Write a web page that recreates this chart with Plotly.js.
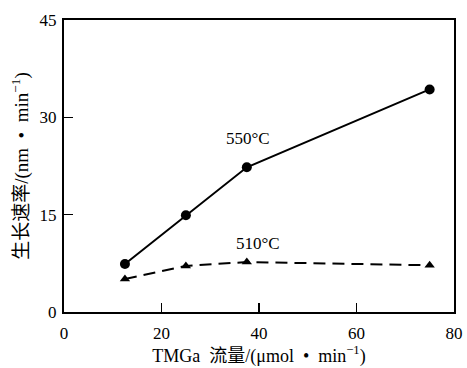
<!DOCTYPE html>
<html>
<head>
<meta charset="utf-8">
<script src="https://cdn.plot.ly/plotly-3.0.1.min.js"></script>
<style>html,body{margin:0;padding:0;background:#fff;}#chart{width:467px;height:368px;}</style>
</head>
<body>
<div id="chart"></div>
<script>
const flow = [12.5, 25, 37.5, 75];
const rate550 = [7.4, 14.9, 22.3, 34.3];
const rate510 = [5.1, 7.1, 7.7, 7.2];
const xTicks = [0, 20, 40, 60, 80];
const yTicks = [0, 15, 30, 45];
const label550 = "550°C";
const label510 = "510°C";
const xTitle = "TMGa\u00a0\u00a0流量/(μmol\u00a0\u00a0•\u00a0\u00a0min<sup>−1</sup>)";
const yTitle = "生长速率/(nm\u00a0\u00a0•\u00a0\u00a0min<sup>−1</sup>)";

const fontFam = "Liberation Serif, 'Noto Sans CJK SC', serif";

const traces = [
  {x: flow, y: rate550, mode: "lines+markers", type: "scatter",
   line: {color: "#000", width: 2}, marker: {symbol: "circle", size: 10, color: "#000"}},
  {x: flow, y: rate510, mode: "lines+markers", type: "scatter",
   line: {color: "#000", width: 2, dash: "12px,7px"}, marker: {symbol: "triangle-up", size: 9, color: "#000"}}
];

const layout = {
  width: 467, height: 368,
  margin: {l: 64, r: 13, t: 20, b: 56},
  paper_bgcolor: "#fff", plot_bgcolor: "#fff",
  showlegend: false,
  font: {family: fontFam, color: "#000", size: 17},
  xaxis: {
    range: [0, 80], tickvals: xTicks, ticktext: xTicks.map(String),
    ticks: "inside", ticklen: 9, tickwidth: 1.5, tickcolor: "#000",
    showline: true, linecolor: "#000", linewidth: 2, mirror: true,
    showgrid: false, zeroline: false, ticklabelstandoff: 5,
    tickfont: {family: fontFam, size: 17},
    title: {text: xTitle, font: {family: fontFam, size: 18}, standoff: 2}
  },
  yaxis: {
    range: [0, 45], tickvals: yTicks, ticktext: yTicks.map(String),
    ticks: "inside", ticklen: 9, tickwidth: 1.5, tickcolor: "#000",
    showline: true, linecolor: "#000", linewidth: 2, mirror: true,
    showgrid: false, zeroline: false, ticklabelstandoff: 2,
    tickfont: {family: fontFam, size: 17},
    title: {text: yTitle, font: {family: fontFam, size: 19}, standoff: 6}
  },
  annotations: [
    {x: 37.7, y: 26.8, xref: "x", yref: "y", text: label550, showarrow: false, font: {family: fontFam, size: 17}},
    {x: 39.8, y: 10.6, xref: "x", yref: "y", text: label510, showarrow: false, font: {family: fontFam, size: 17}}
  ]
};

Plotly.newPlot("chart", traces, layout, {displayModeBar: false, staticPlot: true});
</script>
</body>
</html>
